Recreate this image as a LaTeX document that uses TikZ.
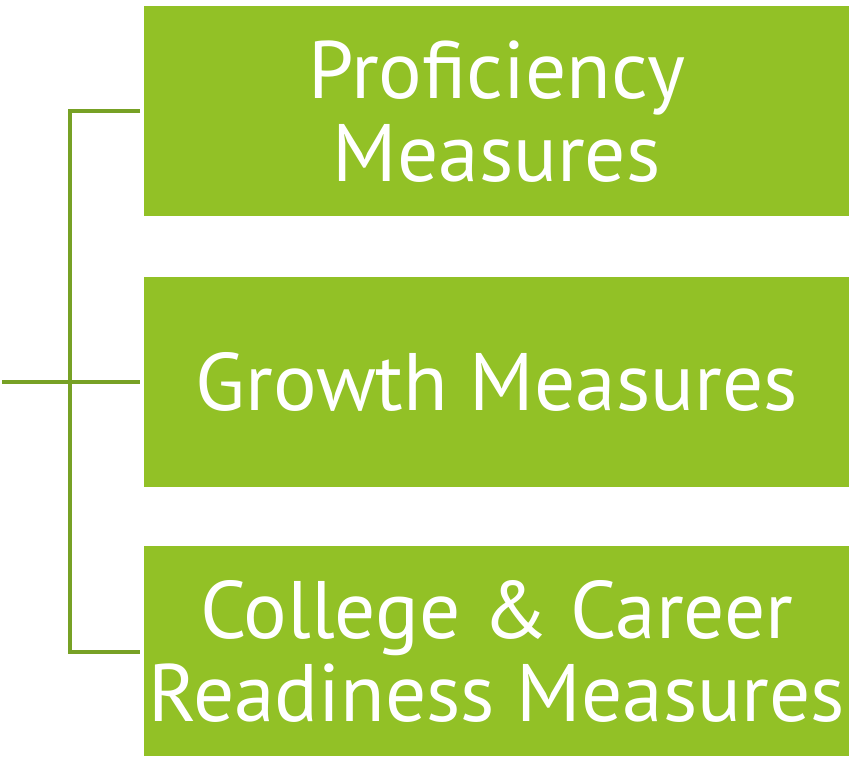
\documentclass[tikz,border=0pt]{standalone}
\usepackage{fontspec}
\setmainfont{PT Sans}
\definecolor{boxgreen}{HTML}{92C126}
\definecolor{linegreen}{HTML}{77A125}
\begin{document}
\begin{tikzpicture}[x=1pt,y=-1pt,
  mbox/.style={fill=boxgreen,draw=none,inner sep=0pt,minimum width=705pt,minimum height=210pt,anchor=north west,
    text=white,align=center,font=\fontsize{81.5}{83}\selectfont},
  conn/.style={draw=linegreen,line width=3.5pt}]
\useasboundingbox (0,0) rectangle (853,759);
\node[mbox] (p) at (144,6) {Proficiency\\Measures};
\node[mbox] (g) at (144,277) {Growth Measures};
\node[mbox] (c) at (144,546) {College \& Career\\Readiness Measures};
\coordinate (top) at (70,111);
\coordinate (bot) at (70,652);
\coordinate (mid) at (70,382);
\coordinate (left) at (2,382);
\draw[conn] ([xshift=-4pt]p.west |- top) -- (top) -- (bot) -- ([xshift=-4pt]c.west |- bot);
\draw[conn] (left) -- ([xshift=-4pt]g.west |- mid);
\end{tikzpicture}
\end{document}
